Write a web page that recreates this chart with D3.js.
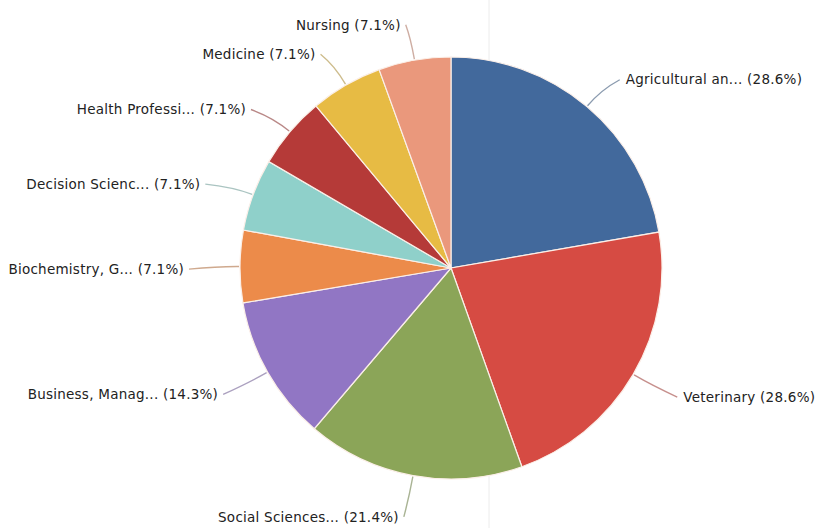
<!DOCTYPE html>
<html>
<head>
<meta charset="utf-8">
<script src="https://cdn.jsdelivr.net/npm/d3@7"></script>
<style>
  html, body { margin: 0; padding: 0; background: #fff; }
  svg { display: block; }
</style>
</head>
<body>
<svg id="chart" width="819" height="528"></svg>
<script>
// Subject areas, in drawing order (clockwise from 12 o'clock)
const categories = [
  "Agricultural an...",
  "Veterinary",
  "Social Sciences...",
  "Business, Manag...",
  "Biochemistry, G...",
  "Decision Scienc...",
  "Health Professi...",
  "Medicine",
  "Nursing"
];
// Share of documents per subject area (%)
const percentages = [28.6, 28.6, 21.4, 14.3, 7.1, 7.1, 7.1, 7.1, 7.1];
const colors = [
  "#42699c", "#d64b43", "#8ba558", "#9176c4", "#ec8b4a",
  "#8fd0ca", "#b53a38", "#e7bb44", "#ea987c"
];

const data = categories.map((name, i) => ({ name, value: percentages[i], color: colors[i] }));

const svg = d3.select("#chart");
const cx = 451, cy = 268, r = 211;

// faint page rule behind the chart
svg.append("line")
  .attr("x1", 489).attr("x2", 489).attr("y1", 0).attr("y2", 528)
  .attr("stroke", "#ececec").attr("stroke-width", 1);

const pie = d3.pie().sort(null).value(d => d.value);
const arcs = pie(data);
const arc = d3.arc().innerRadius(0).outerRadius(r);

const g = svg.append("g").attr("transform", `translate(${cx},${cy})`);

g.selectAll("path.slice")
  .data(arcs)
  .join("path")
  .attr("class", "slice")
  .attr("d", arc)
  .attr("fill", d => d.data.color)
  .attr("stroke", "#fbefe8")
  .attr("stroke-width", 1.2);

// label geometry
const labelRx = 262, labelRy = 250, labelDrop = 3;
const mid = d => (d.startAngle + d.endAngle) / 2;

const labels = arcs.map(d => {
  const a = mid(d);
  const s = Math.sin(a), c = Math.cos(a);
  const start = [(r + 1) * s, -(r + 1) * c];
  const ctrl = [(r + 22) * s, -(r + 22) * c];
  const end = [labelRx * s, -labelRy * c + labelDrop];
  const right = s >= 0;
  return { d, start, ctrl, end, right };
});

const grey = d3.color("#9a9a9a");
g.selectAll("path.connector")
  .data(labels)
  .join("path")
  .attr("class", "connector")
  .attr("fill", "none")
  .attr("stroke", d => d3.interpolateRgb(d.d.data.color, grey)(0.5))
  .attr("stroke-opacity", 0.8)
  .attr("stroke-width", 1.4)
  .attr("d", l => `M${l.start[0]},${l.start[1]} Q${l.ctrl[0]},${l.ctrl[1]} ${l.end[0]},${l.end[1]}`);

g.selectAll("text.label")
  .data(labels)
  .join("text")
  .attr("class", "label")
  .attr("x", l => l.end[0] + (l.right ? 6 : -5))
  .attr("y", l => l.end[1])
  .attr("dy", "0.35em")
  .attr("text-anchor", l => l.right ? "start" : "end")
  .attr("font-family", "'DejaVu Sans', Verdana, sans-serif")
  .attr("font-size", 13.5)
  .attr("letter-spacing", 0.25)
  .attr("fill", "#222")
  .text(l => `${l.d.data.name} (${l.d.data.value.toFixed(1)}%)`);
</script>
</body>
</html>
